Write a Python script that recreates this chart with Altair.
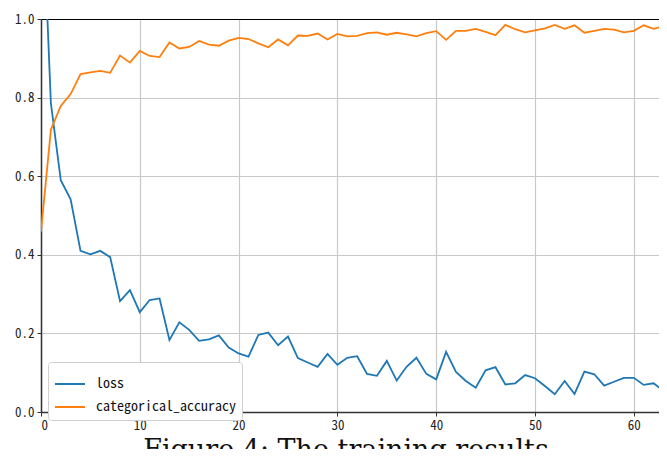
import altair as alt
import pandas as pd

epochs = list(range(64))
loss = [1.40, 0.786, 0.59, 0.541, 0.41, 0.401, 0.41, 0.394, 0.282, 0.31,
        0.254, 0.285, 0.289, 0.183, 0.228, 0.209, 0.181, 0.185, 0.195, 0.164,
        0.149, 0.141, 0.196, 0.202, 0.17, 0.192, 0.137, 0.126, 0.115, 0.148,
        0.12, 0.138, 0.142, 0.097, 0.092, 0.13, 0.08, 0.115, 0.138, 0.097,
        0.083, 0.153, 0.102, 0.079, 0.062, 0.106, 0.114, 0.07, 0.073, 0.094,
        0.086, 0.066, 0.045, 0.079, 0.046, 0.103, 0.096, 0.067, 0.077, 0.087,
        0.087, 0.069, 0.073, 0.054]
accuracy = [0.459, 0.718, 0.779, 0.809, 0.86, 0.864, 0.868, 0.863, 0.907, 0.889,
            0.919, 0.906, 0.903, 0.94, 0.925, 0.929, 0.944, 0.935, 0.932, 0.945,
            0.952, 0.949, 0.938, 0.928, 0.948, 0.933, 0.958, 0.957, 0.963, 0.948,
            0.962, 0.956, 0.957, 0.964, 0.966, 0.96, 0.965, 0.961, 0.956, 0.964,
            0.969, 0.947, 0.97, 0.97, 0.975, 0.967, 0.959, 0.985, 0.974, 0.966,
            0.971, 0.976, 0.985, 0.975, 0.984, 0.965, 0.97, 0.975, 0.973, 0.966,
            0.97, 0.984, 0.975, 0.982]
series_names = ["loss", "categorical_accuracy"]
series_colors = ["#1f77b4", "#ff7f0e"]
x_ticks = [0, 10, 20, 30, 40, 50, 60]
y_ticks = [0.0, 0.2, 0.4, 0.6, 0.8, 1.0]
caption = "Figure 4: The training results"

df = pd.DataFrame({
    "epoch": epochs + epochs,
    "value": loss + accuracy,
    "series": [series_names[0]] * len(loss) + [series_names[1]] * len(accuracy),
})

tick_font = "Noto Sans Mono CJK SC, DejaVu Sans Mono"
x_scale = alt.Scale(domain=[0, 62.55], nice=False, zero=False)
y_scale = alt.Scale(domain=[0, 1], nice=False)

lines = alt.Chart(df).mark_line(strokeWidth=1.8, clip=True).encode(
    x=alt.X("epoch:Q", scale=x_scale,
            axis=alt.Axis(values=x_ticks, title=None, format="d")),
    y=alt.Y("value:Q", scale=y_scale,
            axis=alt.Axis(values=y_ticks, title=None, format=".1f")),
    color=alt.Color("series:N",
                    scale=alt.Scale(domain=series_names, range=series_colors),
                    legend=alt.Legend(title=None, orient="none",
                                      legendX=7, legendY=343)),
)

# top spine drawn as a label-less top axis
top_spine = alt.Chart(df).mark_point(opacity=0).encode(
    x=alt.X("epoch:Q", scale=x_scale,
            axis=alt.Axis(orient="top", labels=False, ticks=False, grid=False,
                          title=None, domainColor="black", domainWidth=1)),
    y=alt.Y("value:Q", scale=y_scale),
)

cap = alt.Chart(pd.DataFrame({"caption": [caption]})).mark_text(
    font="DejaVu Serif", fontSize=27, baseline="alphabetic", align="center",
    color="#111111"
).encode(
    x=alt.value(305), y=alt.value(440), text="caption:N"
)

chart = alt.layer(lines, top_spine, cap).resolve_axis(x="independent").properties(
    width=618, height=393,
    autosize=alt.AutoSizeParams(type="none"),
    padding={"left": 33, "top": 11, "right": 0, "bottom": 37},
).configure_view(
    strokeOpacity=0
).configure_axis(
    labelFont=tick_font, labelFontSize=13, labelColor="#222222",
    tickSize=4, tickColor="#333333", domainColor="#333333", domainWidth=1.5,
    grid=True, gridColor="#c8c8c8", gridWidth=1.2, labelPadding=3,
).configure_legend(
    labelFont=tick_font, labelFontSize=14, labelColor="#111111",
    symbolType="stroke", symbolSize=900, symbolStrokeWidth=2,
    strokeColor="#d0d0d0", cornerRadius=3, fillColor="white",
    padding=6, rowPadding=-12, labelOffset=10,
)

chart.save("out.html", embed_options={"renderer": "svg", "actions": False})
